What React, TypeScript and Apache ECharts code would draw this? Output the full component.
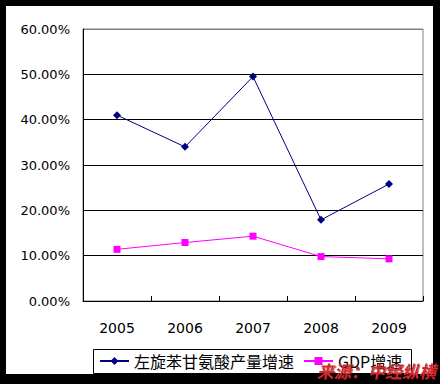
import React, { useEffect, useRef } from "react";
import * as echarts from "echarts";

const categories = ["2005", "2006", "2007", "2008", "2009"];
const seriesNames = ["左旋苯甘氨酸产量增速", "GDP增速"];
const productGrowth = [41.0, 34.0, 49.5, 17.9, 25.8];
const gdpGrowth = [11.4, 12.9, 14.3, 9.8, 9.3];
const watermark = "来源：中经纵横";

export default function App() {
  const ref = useRef<HTMLDivElement>(null);
  useEffect(() => {
    if (!ref.current) return;
    const chart = echarts.init(ref.current, null, { renderer: "svg" });
    const font = "DejaVu Sans";
    chart.setOption({
      animation: false,
      backgroundColor: "#000",
      grid: {
        left: 83,
        top: 29,
        right: 17,
        bottom: 83,
        show: true,
        borderColor: "#808080",
        borderWidth: 1,
        backgroundColor: "transparent",
      },
      xAxis: {
        type: "category",
        data: categories,
        boundaryGap: true,
        axisLine: { lineStyle: { color: "#000", width: 1 } },
        axisTick: { show: true, inside: true, length: 5, lineStyle: { color: "#000" } },
        axisLabel: { color: "#000", fontFamily: font, fontSize: 14, margin: 20 },
        splitLine: { show: false },
      },
      yAxis: {
        type: "value",
        min: 0,
        max: 60,
        interval: 10,
        axisLine: { show: true, lineStyle: { color: "#000", width: 1 } },
        axisTick: { show: false },
        axisLabel: {
          color: "#000",
          fontFamily: font,
          fontSize: 13,
          margin: 13,
          formatter: (v: number) => v.toFixed(2) + "%",
        },
        splitLine: {
          show: true,
          lineStyle: {
            color: ["#000", "#000", "#000", "#000", "#000", "#000", "#808080"],
            width: 1,
          },
        },
      },
      legend: {
        left: 99,
        top: 353,
        padding: 0,
        itemWidth: 29,
        itemHeight: 10,
        itemGap: 9,
        textStyle: { color: "#000", fontFamily: "Noto Sans CJK SC", fontSize: 16 },
        data: seriesNames,
      },
      graphic: [
        {
          type: "rect",
          z: -10,
          silent: true,
          shape: { x: 6, y: 6, width: 427, height: 368 },
          style: { fill: "#fff" },
        },
        {
          type: "rect",
          z: 1,
          silent: true,
          shape: { x: 93.5, y: 349.5, width: 318, height: 24 },
          style: { fill: "transparent", stroke: "#000", lineWidth: 1 },
        },
        {
          type: "text",
          z: 100,
          x: 317,
          y: 362,
          style: {
            text: watermark,
            fill: "#d42a2e",
            font: "italic bold 17px 'Noto Sans CJK SC'",
            textShadowColor: "rgba(90,0,0,0.5)",
            textShadowBlur: 1,
            textShadowOffsetX: 1,
            textShadowOffsetY: 1,
          },
        },
      ],
      series: [
        {
          name: seriesNames[0],
          type: "line",
          data: productGrowth,
          symbol: "diamond",
          symbolSize: 8,
          lineStyle: { color: "#000080", width: 1 },
          itemStyle: { color: "#000080" },
        },
        {
          name: seriesNames[1],
          type: "line",
          data: gdpGrowth,
          symbol: "rect",
          symbolSize: 7,
          lineStyle: { color: "#ff00ff", width: 1 },
          itemStyle: { color: "#ff00ff" },
        },
      ],
    });
    return () => chart.dispose();
  }, []);
  return (
    <div
      ref={ref}
      style={{ position: "fixed", left: 0, top: 0, width: 440, height: 384 }}
    />
  );
}
